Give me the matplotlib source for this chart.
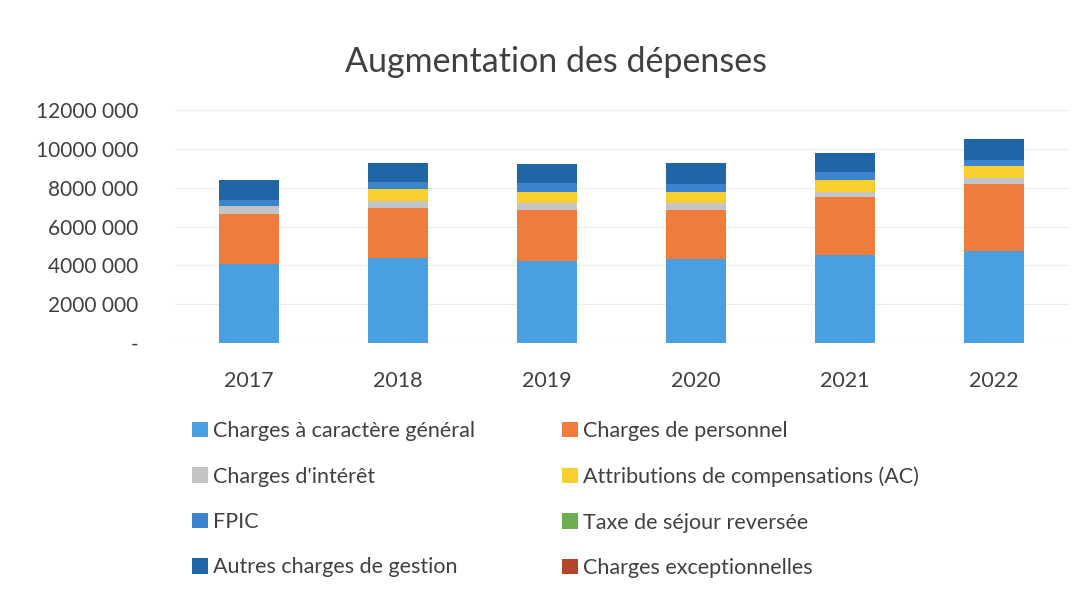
import numpy as np
import matplotlib
matplotlib.use("Agg")
import matplotlib.pyplot as plt
from matplotlib.patches import Patch
from matplotlib.ticker import FuncFormatter

plt.rcParams['font.family'] = ['Lato', 'DejaVu Sans']

# data (euros)
years = ['2017', '2018', '2019', '2020', '2021', '2022']
generales = [4070000, 4380000, 4220000, 4330000, 4530000, 4740000]
personnel = [2580000, 2570000, 2630000, 2520000, 2990000, 3450000]
interets = [410000, 360000, 360000, 360000, 260000, 310000]
attributions = [0, 620000, 570000, 570000, 620000, 620000]
fpic = [310000, 360000, 440000, 410000, 410000, 310000]
taxe_sejour = [0, 0, 20000, 0, 0, 0]
autres = [1030000, 980000, 980000, 1080000, 980000, 1080000]
exceptionnelles = [20000, 10000, 10000, 10000, 10000, 20000]

series = [
    ("Charges à caractère général", generales, '#4A9FE0'),
    ("Charges de personnel", personnel, '#EE7D3B'),
    ("Charges d'intérêt", interets, '#C2C4C6'),
    ("Attributions de compensations (AC)", attributions, '#F7CF2E'),
    ("FPIC", fpic, '#3D84CE'),
    ("Taxe de séjour reversée", taxe_sejour, '#6CAE4F'),
    ("Autres charges de gestion", autres, '#2066A6'),
    ("Charges exceptionnelles", exceptionnelles, '#B4452A'),
]

fig = plt.figure(figsize=(10.85, 5.9), dpi=100)
ax = fig.add_axes([0.161, 0.4186, 0.824, 0.395])

x = np.arange(len(years))
bottom = np.zeros(len(years))
for name, vals, col in series:
    vals = np.array(vals, dtype=float)
    ax.bar(x, vals, 0.4, bottom=bottom, color=col, label=name, zorder=3)
    bottom += vals

ax.set_xlim(-0.5, len(years) - 0.5)
ax.set_ylim(0, 12000000)
ax.set_yticks(np.arange(0, 12000001, 2000000))


def fmt(v, pos):
    if v == 0:
        return '-'
    v = int(v)
    return f"{v // 1000} {v % 1000:03d}"


ax.yaxis.set_major_formatter(FuncFormatter(fmt))
ax.set_xticks(x)
ax.set_xticklabels(years)
ax.tick_params(axis='both', length=0, labelcolor='#404040')
ax.tick_params(axis='x', pad=20, labelsize=15.5)
ax.tick_params(axis='y', pad=26, labelsize=15)
ax.grid(axis='y', color='#ececec', linewidth=0.8, zorder=0)
for s in ax.spines.values():
    s.set_visible(False)

fig.text(0.512, 0.895, "Augmentation des dépenses", ha='center', va='center',
         fontsize=24.5, color='#404040')

handles = [Patch(facecolor=c, edgecolor='none') for _, _, c in series]
labels = [n for n, _, _ in series]
kw = dict(frameon=False, fontsize=15.5, labelspacing=1.18, handlelength=0.72,
          handleheight=0.72, handletextpad=0.25, borderpad=0, borderaxespad=0,
          labelcolor='#404040')
fig.legend(handles[0::2], labels[0::2], loc='upper left',
           bbox_to_anchor=(0.177, 0.286), **kw)
fig.legend(handles[1::2], labels[1::2], loc='upper left',
           bbox_to_anchor=(0.518, 0.286), **kw)

fig.savefig('out.png', dpi=100)
